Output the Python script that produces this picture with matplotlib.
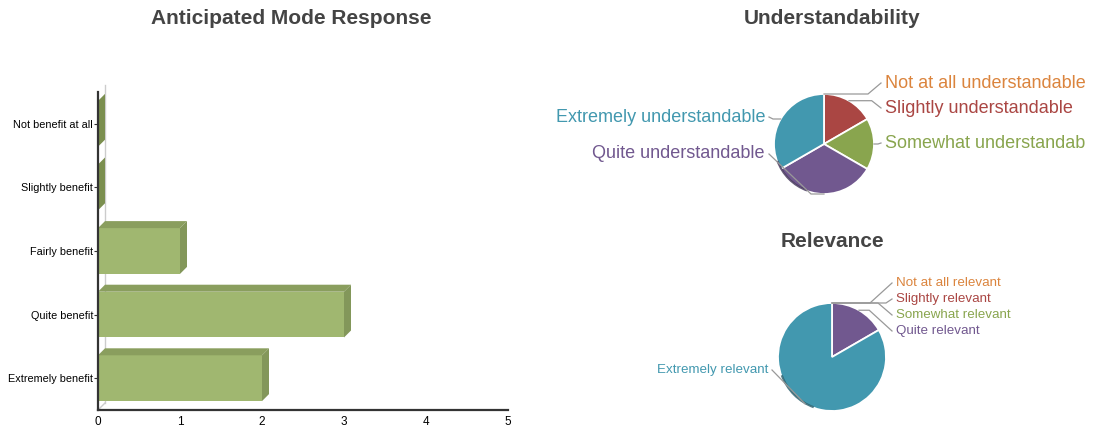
import matplotlib
matplotlib.use('Agg')
import matplotlib.pyplot as plt
import numpy as np
from matplotlib.patches import Polygon, Rectangle, Arc
from matplotlib.transforms import Bbox

# ---------------- data ----------------
bar_categories = ['Not benefit at all', 'Slightly benefit', 'Fairly benefit',
                  'Quite benefit', 'Extremely benefit']
bar_values = [0, 0, 1, 3, 2]
x_ticks = [0, 1, 2, 3, 4, 5]

und_labels = ['Not at all understandable', 'Slightly understandable',
              'Somewhat understandable', 'Quite understandable',
              'Extremely understandable']
und_values = [0, 1, 1, 2, 2]

rel_labels = ['Not at all relevant', 'Slightly relevant', 'Somewhat relevant',
              'Quite relevant', 'Extremely relevant']
rel_values = [0, 0, 0, 1, 5]

slice_colors = ['#DB843D', '#AA4643', '#89A54E', '#71588F', '#4298AF']

# ---------------- setup ----------------
W, H, DPI = 1099, 428, 100
plt.rcParams['font.family'] = ['Liberation Sans', 'DejaVu Sans']
fig = plt.figure(figsize=(W / DPI, H / DPI), dpi=DPI)


def fig_rect(x0, y0, x1, y1):
    return [x0 / W, 1 - y1 / H, (x1 - x0) / W, (y1 - y0) / H]


# overlay for titles / connectors in pixel coordinates
ov = fig.add_axes([0, 0, 1, 1], zorder=5)
ov.set_xlim(0, W)
ov.set_ylim(H, 0)
ov.axis('off')

title_kw = dict(fontsize=15, fontweight='bold', color='#444444', ha='center', va='center')
ov.text(291, 18, 'Anticipated Mode Response', **title_kw)
ov.text(832, 18, 'Understandability', **title_kw)
ov.text(832, 241, 'Relevance', **title_kw)

# ---------------- 3D-like horizontal bar chart ----------------
ax_px = (98, 92, 508, 410)
ax = fig.add_axes(fig_rect(*ax_px))
ax.set_xlim(x_ticks[0], x_ticks[-1])
ax.set_ylim(len(bar_categories) - 0.5, -0.5)
depth = 7
dx = depth / (ax_px[2] - ax_px[0]) * (x_ticks[-1] - x_ticks[0])
dy = -depth / (ax_px[3] - ax_px[1]) * len(bar_categories)

# back wall line
ax.plot([dx, dx], [len(bar_categories) - 0.5 + dy, -0.5 + dy], color='#cccccc',
        lw=1, clip_on=False, zorder=1)
ax.plot([0, dx], [len(bar_categories) - 0.5, len(bar_categories) - 0.5 + dy],
        color='#cccccc', lw=1, clip_on=False, zorder=1)

half = 0.36
front_c, top_c, side_c = '#A0B770', '#8A9E5E', '#83975A'
for i, v in enumerate(bar_values):
    top = i - half
    bot = i + half
    if v > 0:
        ax.add_patch(Rectangle((0, top), v, bot - top, facecolor=front_c,
                               edgecolor='none', zorder=3, clip_on=False))
        ax.add_patch(Polygon([(0, top), (v, top), (v + dx, top + dy), (dx, top + dy)],
                             closed=True, facecolor=top_c, edgecolor='none',
                             zorder=3, clip_on=False))
    ax.add_patch(Polygon([(v, top), (v + dx, top + dy), (v + dx, bot + dy), (v, bot)],
                         closed=True, facecolor=side_c if v > 0 else '#7B8F4F',
                         edgecolor='none', zorder=3, clip_on=False))

ax.set_yticks(range(len(bar_categories)))
ax.set_yticklabels(bar_categories)
ax.set_xticks(x_ticks)
for s in ['top', 'right']:
    ax.spines[s].set_visible(False)
for s in ['left', 'bottom']:
    ax.spines[s].set_color('#333333')
    ax.spines[s].set_linewidth(1.6)
    ax.spines[s].set_zorder(6)
ax.tick_params(axis='y', length=3, color='#333333', labelsize=7.8, pad=0.5)
ax.tick_params(axis='x', length=0, labelsize=8.5, pad=4)
ax.set_facecolor('none')


# ---------------- pies ----------------
def draw_pie(values, labels, cx, cy, r, label_pos, fontsize, shade, clip_x=None):
    pax = fig.add_axes(fig_rect(cx - r, cy - r, cx + r, cy + r), zorder=3)
    pax.pie(values, colors=slice_colors, startangle=90, counterclock=False,
            radius=1.0, wedgeprops=dict(edgecolor='white', linewidth=1.3, zorder=1))
    pax.add_patch(Arc((0.0, 0.0), 1.98, 1.98, theta1=200, theta2=250,
                      color=shade, lw=1.5, zorder=2, alpha=0.8))
    pax.set_xlim(-1, 1)
    pax.set_ylim(-1, 1)
    pax.axis('off')
    for p in pax.patches:
        p.set_clip_on(False)

    total = float(sum(values))
    cum = 0.0
    for k, (v, lab) in enumerate(zip(values, labels)):
        a1 = 90 - 360 * cum / total
        cum += v
        a2 = 90 - 360 * cum / total
        mid = np.deg2rad((a1 + a2) / 2)
        px = cx + r * np.cos(mid)
        py = cy - r * np.sin(mid)
        lx, ly, side = label_pos[k]
        if side == 'right':
            end = lx - 4
            ex = max(end - 2 - abs(ly - py), px)
        else:
            end = lx + 4
            ex = min(end + 2 + abs(ly - py), px)
        ov.plot([px, ex, end], [py, py, ly], color='#999999', lw=0.9,
                solid_joinstyle='miter')
        t = ov.text(lx, ly, lab, fontsize=fontsize, color=slice_colors[k],
                    ha='left' if side == 'right' else 'right', va='center')
        if clip_x is not None:
            t.set_clip_box(Bbox([[0, 0], [clip_x, H]]))
            t.set_clip_on(True)


und_pos = [(885, 83, 'right'), (885, 108, 'right'), (885, 143, 'right'),
           (765, 154, 'left'), (765, 117, 'left')]
draw_pie(und_values, und_labels, 824, 144, 50, und_pos, 13, '#3e2f55', clip_x=1085)

rel_pos = [(896, 283, 'right'), (896, 299, 'right'), (896, 315, 'right'),
           (896, 331, 'right'), (768, 370, 'left')]
draw_pie(rel_values, rel_labels, 832, 357, 54, rel_pos, 9.6, '#245a68')

fig.savefig('out.png', dpi=DPI)
